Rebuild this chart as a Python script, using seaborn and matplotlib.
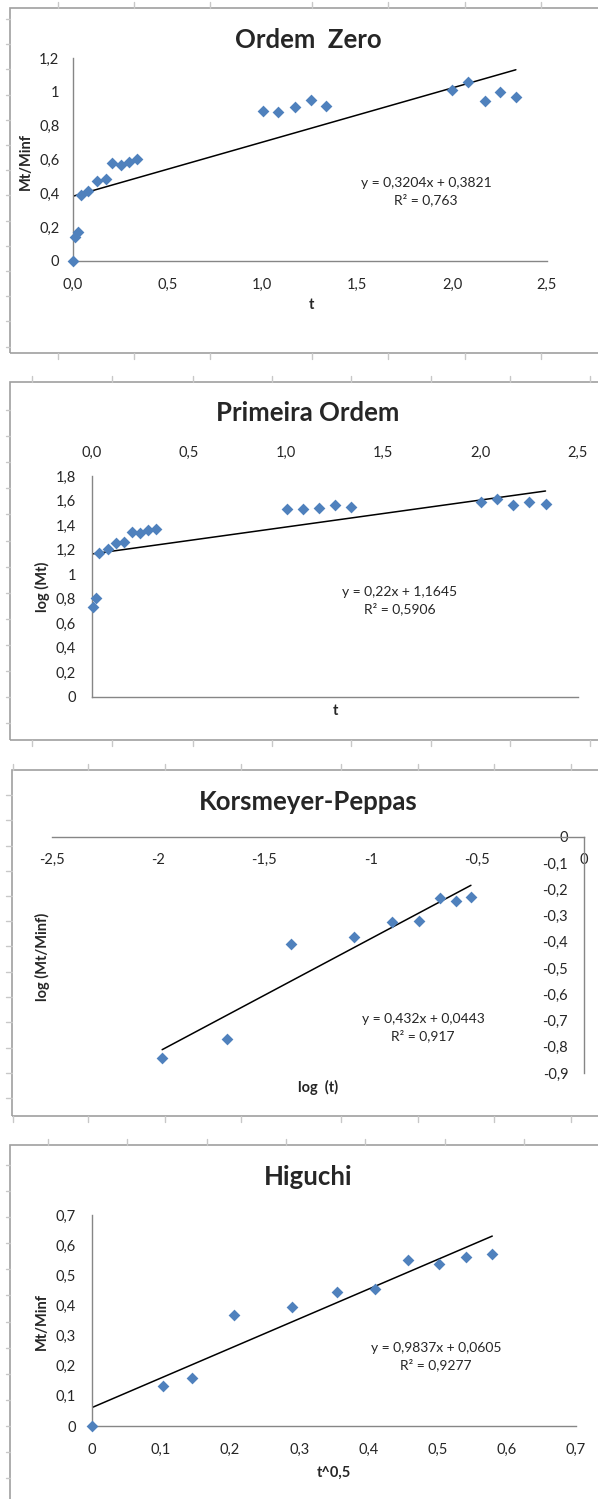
import numpy as np
import seaborn as sns
import matplotlib.pyplot as plt
from matplotlib.patches import Rectangle
from matplotlib.lines import Line2D

# values
t_zero = [0.0, 0.014, 0.030, 0.046, 0.084, 0.127, 0.175, 0.209, 0.255, 0.297, 0.339,
          1.002, 1.084, 1.171, 1.255, 1.336, 2.002, 2.084, 2.171, 2.253, 2.336]
mt_zero = [0.0, 0.142, 0.172, 0.392, 0.414, 0.470, 0.484, 0.582, 0.566, 0.588, 0.604,
           0.888, 0.878, 0.910, 0.953, 0.916, 1.009, 1.058, 0.943, 1.001, 0.971]

t_first = [0.006, 0.024, 0.041, 0.086, 0.127, 0.169, 0.210, 0.251, 0.292, 0.333,
           1.004, 1.086, 1.169, 1.251, 1.335, 2.002, 2.082, 2.167, 2.249, 2.333]
log_mt = [0.734, 0.810, 1.172, 1.205, 1.256, 1.264, 1.343, 1.335, 1.360, 1.365,
          1.528, 1.528, 1.539, 1.561, 1.550, 1.591, 1.612, 1.561, 1.591, 1.572]

log_t = [-1.980, -1.676, -1.376, -1.077, -0.901, -0.772, -0.676, -0.597, -0.529]
log_mt_minf = [-0.844, -0.770, -0.408, -0.380, -0.325, -0.322, -0.233, -0.243, -0.229]

sqrt_t = [0.0, 0.103, 0.145, 0.206, 0.290, 0.354, 0.410, 0.457, 0.502, 0.541, 0.579]
mt_minf = [0.0, 0.134, 0.158, 0.368, 0.394, 0.443, 0.456, 0.551, 0.537, 0.560, 0.571]

titles = ["Ordem  Zero", "Primeira Ordem", "Korsmeyer-Peppas", "Higuchi"]
fits = [(0.3204, 0.3821), (0.22, 1.1645), (0.432, 0.0443), (0.9837, 0.0605)]
eqs = ["y = 0,3204x + 0,3821\nR² = 0,763",
       "y = 0,22x + 1,1645\nR² = 0,5906",
       "y = 0,432x + 0,0443\nR² = 0,917",
       "y = 0,9837x + 0,0605\nR² = 0,9277"]

sns.set_style("white")
plt.rcParams['font.family'] = ['Lato', 'DejaVu Sans']

BLUE = '#4F81BD'
AXIS = '#868686'
BORDER = '#A0A0A0'
GRID = '#C8C8C8'
TICK_FS = 10.5

W, H = 598, 1499
fig = plt.figure(figsize=(W / 100, H / 100), dpi=100)


def fx(x):
    return x / W


def fy(y):
    return 1 - y / H


def make_ax(l, t, r, b):
    return fig.add_axes([fx(l), fy(b), (r - l) / W, (b - t) / H])


def fmt(v, dec=None):
    v = round(float(v), 3) + 0.0
    s = f"{v:.{dec}f}" if dec is not None else f"{v:g}"
    return s.replace('.', ',')


def style(ax, xpad, ypad):
    for s in ax.spines.values():
        s.set_color(AXIS)
        s.set_linewidth(1.0)
    ax.tick_params(axis='x', length=0, labelsize=TICK_FS, pad=xpad)
    ax.tick_params(axis='y', length=0, labelsize=TICK_FS, pad=ypad)
    ax.set_facecolor('none')


def draw(ax, x, y, fit):
    sns.scatterplot(x=x, y=y, ax=ax, marker='D', s=36, color=BLUE,
                    linewidth=0, clip_on=False, zorder=3)
    xs = np.array([min(x), max(x)])
    ax.plot(xs, fit[0] * xs + fit[1], color='black', lw=1.1, zorder=2)
    ax.set_xlabel('')
    ax.set_ylabel('')


# spreadsheet frame: chart borders and cell grid stubs
panels = [
    (10, 8, 353, [58, 134, 210, 312, 388, 465, 541], 19, 25.2),
    (10, 382, 740, [32, 112, 193, 272, 351, 431, 510, 590], 410, 26.1),
    (11.5, 770, 1116, [13, 88, 165, 241, 341, 418, 494, 571], 795, 25.25),
    (10, 1145, 1510, [48, 127, 207, 286, 365, 445, 524], 1165, 26.1),
]
for left, top, bottom, cols, r0, rstep in panels:
    fig.add_artist(Rectangle((fx(left), fy(bottom)), (620 - left) / W, (bottom - top) / H,
                             transform=fig.transFigure, fill=False, ec=BORDER, lw=1.2))
    for c in cols:
        fig.add_artist(Line2D([fx(c), fx(c)], [fy(top - 6), fy(top)],
                              transform=fig.transFigure, color=GRID, lw=1))
        fig.add_artist(Line2D([fx(c), fx(c)], [fy(bottom), fy(bottom + 6)],
                              transform=fig.transFigure, color=GRID, lw=1))
    for r in np.arange(r0, min(bottom, H), rstep):
        fig.add_artist(Line2D([fx(6), fx(left)], [fy(r), fy(r)],
                              transform=fig.transFigure, color=GRID, lw=1))

# Ordem Zero
ax1 = make_ax(72.5, 58, 547, 261)
draw(ax1, t_zero, mt_zero, fits[0])
ax1.set_xlim(0, 2.5)
ax1.set_ylim(0, 1.2)
xt = np.linspace(0, 2.5, 6)
yt = np.linspace(0, 1.2, 7)
ax1.set_xticks(xt, [fmt(v, 1) for v in xt])
ax1.set_yticks(yt, [fmt(v) for v in yt])
ax1.spines[['top', 'right']].set_visible(False)
style(ax1, 12, 9.5)

# Primeira Ordem
ax2 = make_ax(91.5, 476, 578, 697)
draw(ax2, t_first, log_mt, fits[1])
ax2.set_xlim(0, 2.5)
ax2.set_ylim(0, 1.8)
yt = np.linspace(0, 1.8, 10)
ax2.xaxis.tick_top()
ax2.set_xticks(xt, [fmt(v, 1) for v in xt])
ax2.set_yticks(yt, [fmt(v) for v in yt])
ax2.spines[['top', 'right']].set_visible(False)
style(ax2, 11.5, 11)

# Korsmeyer-Peppas
ax3 = make_ax(51.5, 837, 583.5, 1073)
draw(ax3, log_t, log_mt_minf, fits[2])
ax3.set_xlim(-2.5, 0)
ax3.set_ylim(-0.9, 0)
xt3 = np.linspace(-2.5, 0, 6)
yt3 = np.linspace(-0.9, 0, 10)
ax3.set_xticks(xt3, [fmt(v) for v in xt3])
ax3.set_yticks(yt3, [fmt(v) for v in yt3])
ax3.spines['left'].set_position(('data', 0))
ax3.spines['bottom'].set_position(('data', 0))
ax3.spines[['top', 'right']].set_visible(False)
style(ax3, 11.5, 11)

# Higuchi
ax4 = make_ax(91.5, 1215, 576, 1426)
draw(ax4, sqrt_t, mt_minf, fits[3])
ax4.set_xlim(0, 0.7)
ax4.set_ylim(0, 0.7)
xt4 = np.linspace(0, 0.7, 8)
ax4.set_xticks(xt4, [fmt(v) for v in xt4])
ax4.set_yticks(xt4, [fmt(v) for v in xt4])
ax4.spines[['top', 'right']].set_visible(False)
style(ax4, 12, 11.5)

# titles, axis labels, equations
for ty, title in zip([40, 413, 802, 1177], titles):
    fig.text(fx(308), fy(ty), title, ha='center', va='center',
             fontsize=18.5, fontweight='bold')

for (x, y), lab in zip([(311, 305), (335, 711), (318, 1087), (334, 1473)],
                       ["t", "t", "log  (t)", "t^0,5"]):
    fig.text(fx(x), fy(y), lab, ha='center', va='center', fontsize=10.5, fontweight='bold')

for (x, y), lab in zip([(26, 161), (42, 587), (42, 957), (42, 1321)],
                       ["Mt/Minf", "log (Mt)", "log (Mt/Minf)", "Mt/Minf"]):
    fig.text(fx(x), fy(y), lab, ha='center', va='center', rotation=90,
             fontsize=10.5, fontweight='bold')

for (x, y), eq in zip([(426, 191.5), (400, 600.5), (423, 1027.5), (436, 1357)], eqs):
    fig.text(fx(x), fy(y), eq, ha='center', va='center', fontsize=10,
             linespacing=1.4)

fig.savefig('out.png', dpi=100)
